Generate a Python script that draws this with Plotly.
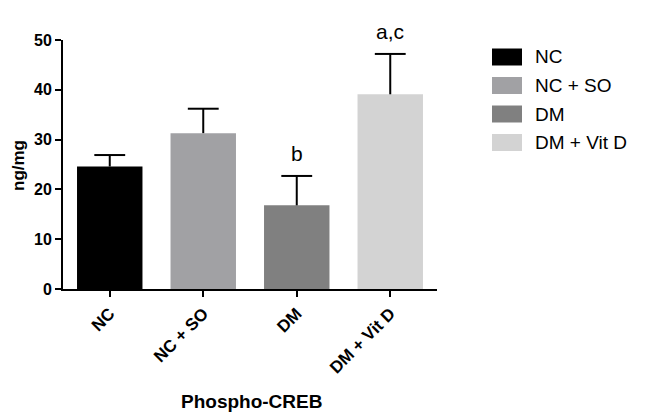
import plotly.graph_objects as go

categories = ["NC", "NC + SO", "DM", "DM + Vit D"]
means = [24.6, 31.3, 16.8, 39.1]
errors = [2.3, 4.9, 5.9, 8.1]
letters = ["", "", "b", "a,c"]
colors = ["#000000", "#a1a1a4", "#808080", "#d3d3d3"]
y_ticks = [0, 10, 20, 30, 40, 50]

FONT = "Liberation Sans, Arial, Helvetica, sans-serif"
CAP = 0.165

xs = list(range(len(categories)))

fig = go.Figure()
fig.add_trace(go.Bar(
    x=xs, y=means,
    marker=dict(color=colors, line=dict(width=0)),
    width=0.7, showlegend=False, hoverinfo="skip",
))

# upward-only error bars (stem + top cap)
ex, ey = [], []
for i, m, e in zip(xs, means, errors):
    ex += [i, i, None, i - CAP, i + CAP, None]
    ey += [m, m + e, None, m + e, m + e, None]
fig.add_trace(go.Scatter(x=ex, y=ey, mode="lines",
                         line=dict(color="#000", width=2),
                         showlegend=False, hoverinfo="skip"))

for i, m, e, t in zip(xs, means, errors, letters):
    if t:
        fig.add_annotation(x=i, y=m + e, text=t, showarrow=False,
                           yanchor="bottom", yshift=9,
                           font=dict(family=FONT, size=21, color="#000"))

# custom legend
for i, (c, col) in enumerate(zip(categories, colors)):
    yc = 57 + i * 28.5
    fig.add_shape(type="rect", xref="paper", yref="paper",
                  x0=(492 - 63) / 374, x1=(522 - 63) / 374,
                  y0=(289 - (yc + 8.5)) / 249, y1=(289 - (yc - 8.5)) / 249,
                  fillcolor=col, line=dict(width=0))
    fig.add_annotation(xref="paper", yref="paper",
                       x=(533 - 63) / 374, y=(289 - yc) / 249,
                       text=c, showarrow=False, xanchor="left", yanchor="middle",
                       font=dict(family=FONT, size=19, color="#000"))

# axis titles
fig.add_annotation(xref="paper", yref="paper", x=(251 - 63) / 374, y=(289 - 402) / 249,
                   text="<b>Phospho-CREB</b>", showarrow=False,
                   xanchor="center", yanchor="middle",
                   font=dict(family=FONT, size=19, color="#000"))
fig.add_annotation(xref="paper", yref="paper", x=(18 - 63) / 374, y=(289 - 166) / 249,
                   text="<b>ng/mg</b>", showarrow=False, textangle=-90,
                   xanchor="center", yanchor="middle",
                   font=dict(family=FONT, size=17, color="#000"))

fig.update_layout(
    width=645, height=415,
    margin=dict(l=63, r=208, t=40, b=126, autoexpand=False),
    plot_bgcolor="white", paper_bgcolor="white",
    font=dict(family=FONT, color="#000"),
)
fig.update_xaxes(
    range=[-0.5, 3.5], tickvals=xs, ticktext=categories,
    showline=True, linecolor="#000", linewidth=2,
    ticks="outside", ticklen=6, tickwidth=2, tickcolor="#000",
    tickangle=-45, tickfont=dict(family=FONT, size=17, color="#000", weight="bold"),
    showgrid=False, zeroline=False, automargin=False,
)
fig.update_yaxes(
    range=[0, 50], tickvals=y_ticks, showline=True, linecolor="#000", linewidth=2,
    ticks="outside", ticklen=6, tickwidth=2, tickcolor="#000",
    tickfont=dict(family=FONT, size=16, color="#000", weight="bold"),
    showgrid=False, zeroline=False, automargin=False,
)

fig.write_html("out.html", config={"displayModeBar": False},
               post_script="document.body.style.margin='0';document.body.style.padding='0';")
